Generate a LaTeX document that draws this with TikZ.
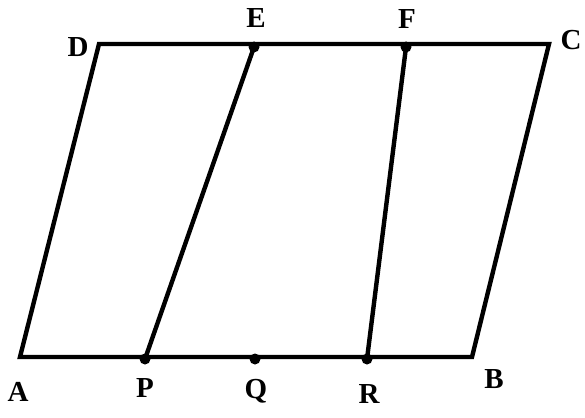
\documentclass[tikz,border=0pt]{standalone}
\usepackage{fontspec}
\setmainfont{Liberation Serif}[BoldFont={Liberation Serif Bold}]
\begin{document}
\begin{tikzpicture}[x=1pt,y=-1pt,
  edge/.style={line width=4.4pt,line join=miter},
  pt/.style={circle,fill=black,inner sep=0pt,minimum size=11pt},
  lab/.style={font=\bfseries\fontsize{29}{29}\selectfont,inner sep=0pt}]
\useasboundingbox (0,0) rectangle (585,417);
\coordinate (A) at (20,357);
\coordinate (B) at (472,357);
\coordinate (C) at (549,44);
\coordinate (D) at (99,44);
\coordinate (E) at (254,47);
\coordinate (F) at (406,47);
\coordinate (P) at (145,359);
\coordinate (Q) at (255,359);
\coordinate (R) at (367,359);
\draw[edge] (A) -- (B) -- (C) -- (D) -- cycle;
\draw[edge] (P) -- (E);
\draw[edge] (R) -- (F);
\foreach \p in {E,F,P,Q,R} \node[pt] at (\p) {};
\node[lab] (lA) at (18,392) {A};
\node[lab] (lB) at (494,379) {B};
\node[lab] (lC) at (571,40) {C};
\node[lab] (lD) at (78,47) {D};
\node[lab] (lE) at (256,18) {E};
\node[lab] (lF) at (407,19) {F};
\node[lab] (lP) at (145,388) {P};
\node[lab] (lQ) at (256,391) {Q};
\node[lab] (lR) at (369,394) {R};
\end{tikzpicture}
\end{document}
